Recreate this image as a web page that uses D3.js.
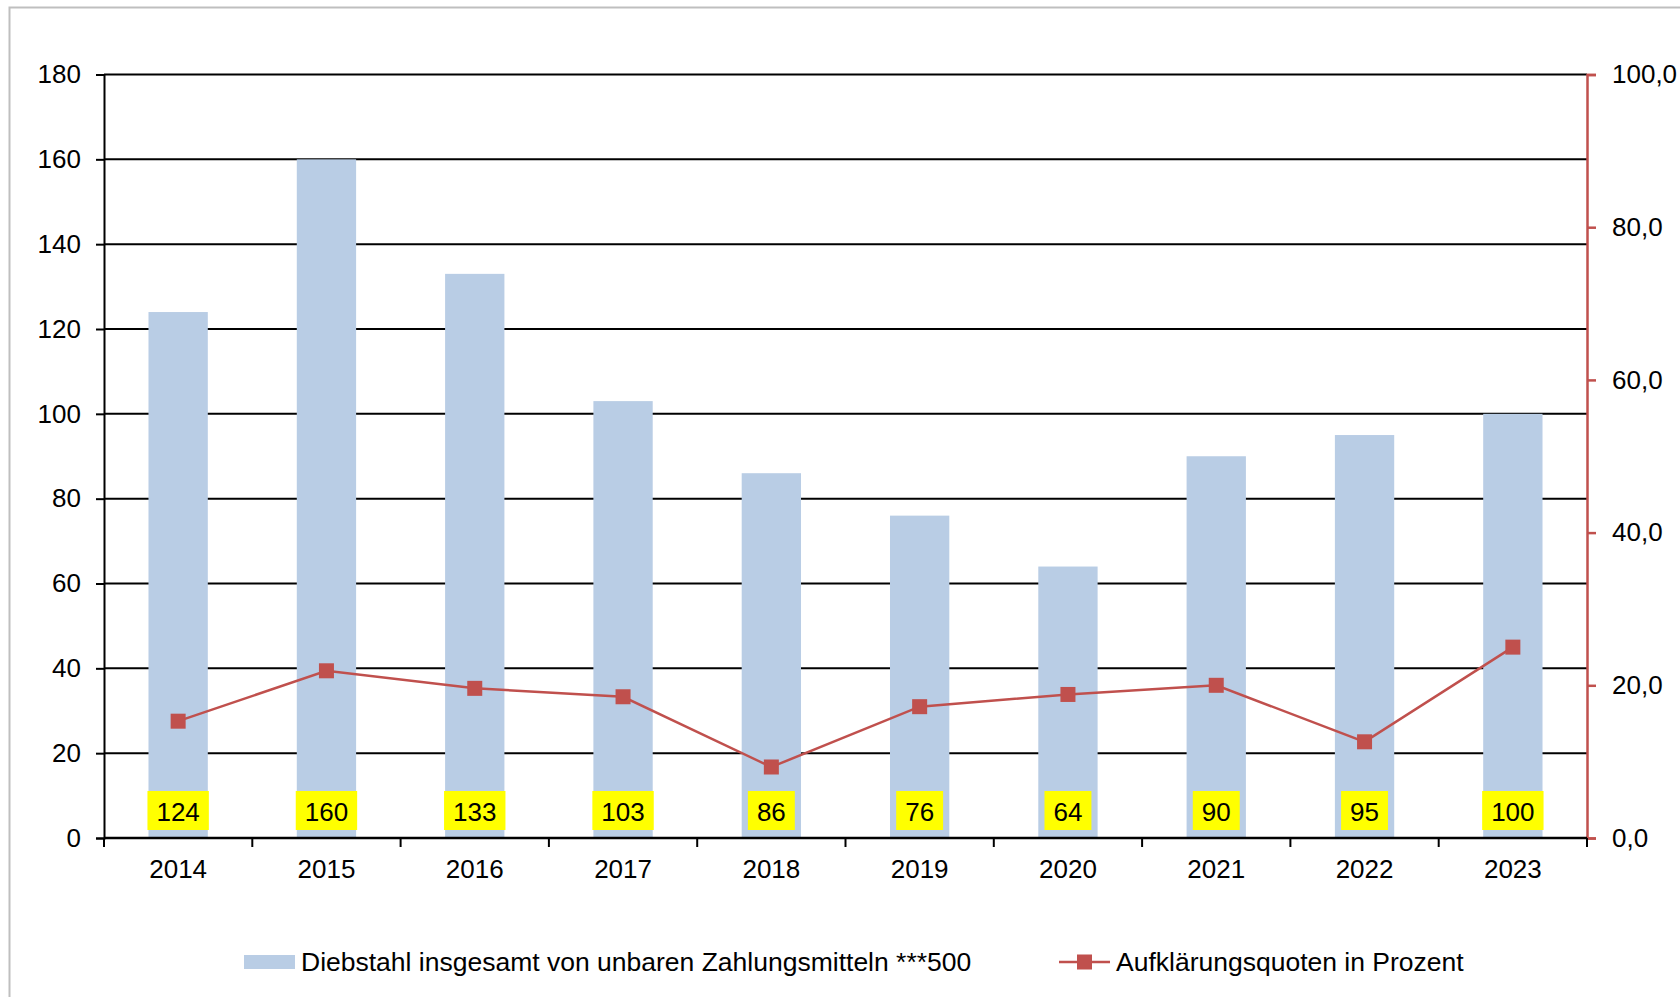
<!DOCTYPE html>
<html>
<head>
<meta charset="utf-8">
<script src="https://cdn.jsdelivr.net/npm/d3@7"></script>
<style>
  html, body { margin: 0; padding: 0; background: #ffffff; }
  svg { display: block; font-family: "Liberation Sans", Arial, sans-serif; }
</style>
</head>
<body>
<svg id="chart" width="1680" height="997"></svg>
<script>
// Jahre, Fallzahlen (Balken) und Aufklärungsquoten (Linie)
const years = ["2014", "2015", "2016", "2017", "2018", "2019", "2020", "2021", "2022", "2023"];
const cases = [124, 160, 133, 103, 86, 76, 64, 90, 95, 100];
const clearanceRates = [15.3, 21.9, 19.6, 18.5, 9.3, 17.2, 18.8, 20.0, 12.6, 25.0];
const leftTicks = [0, 20, 40, 60, 80, 100, 120, 140, 160, 180];
const rightTicks = [0, 20, 40, 60, 80, 100];
const barLegend = "Diebstahl insgesamt von unbaren Zahlungsmitteln ***500";
const lineLegend = "Aufklärungsquoten in Prozent";

const svg = d3.select("#chart");
const W = 1680, H = 997;
const plot = { left: 104, right: 1587, top: 74.5, bottom: 838 };
const barColor = "#B9CDE5";
const lineColor = "#C0504D";
const fontSize = 26;
const legendFontSize = 26.5;

// outer frame of the chart area
svg.append("rect")
  .attr("x", 9.5).attr("y", 7.5)
  .attr("width", W).attr("height", H)
  .attr("fill", "none").attr("stroke", "#BFBFBF").attr("stroke-width", 2);

// scales
const xBand = d3.scaleBand().domain(years).range([plot.left, plot.right]).padding(0);
const xBar = d3.scaleBand().domain(years).range([plot.left, plot.right])
  .paddingInner(0.6).paddingOuter(0.3);
const yLeft = d3.scaleLinear().domain([0, 180]).range([plot.bottom, plot.top]);
const yRight = d3.scaleLinear().domain([0, 100]).range([plot.bottom, plot.top]);

// horizontal gridlines
svg.append("g").selectAll("line")
  .data(leftTicks.filter(d => d > 0))
  .join("line")
  .attr("x1", plot.left).attr("x2", plot.right)
  .attr("y1", d => yLeft(d)).attr("y2", d => yLeft(d))
  .attr("stroke", "#000").attr("stroke-width", 2);

// bars
svg.append("g").selectAll("rect")
  .data(years.map((y, i) => ({ year: y, value: cases[i] })))
  .join("rect")
  .attr("x", d => xBar(d.year))
  .attr("width", xBar.bandwidth())
  .attr("y", d => yLeft(d.value))
  .attr("height", d => yLeft(0) - yLeft(d.value))
  .attr("fill", barColor);

// left axis
const gLeft = svg.append("g")
  .attr("transform", `translate(${plot.left},0)`)
  .call(d3.axisLeft(yLeft).tickValues(leftTicks).tickSize(8).tickPadding(15)
    .tickFormat(d3.format("d")));
gLeft.select(".domain").attr("stroke", "#000").attr("stroke-width", 2);
gLeft.selectAll(".tick line").attr("stroke", "#000").attr("stroke-width", 2);
gLeft.selectAll(".tick text")
  .attr("font-size", fontSize).attr("fill", "#000")
  .attr("font-family", "Liberation Sans, Arial, sans-serif");

// right axis
const fmtComma = d => d.toFixed(1).replace(".", ",");
const gRight = svg.append("g")
  .attr("transform", `translate(${plot.right},0)`)
  .call(d3.axisRight(yRight).tickValues(rightTicks).tickSize(9).tickPadding(16)
    .tickFormat(fmtComma));
gRight.select(".domain").attr("stroke", lineColor).attr("stroke-width", 2.5);
gRight.selectAll(".tick line").attr("stroke", lineColor).attr("stroke-width", 2.5);
gRight.selectAll(".tick text")
  .attr("font-size", fontSize).attr("fill", "#000")
  .attr("font-family", "Liberation Sans, Arial, sans-serif");

// bottom axis: ticks at category boundaries
const gBottom = svg.append("g")
  .attr("transform", `translate(0,${plot.bottom})`);
gBottom.append("line")
  .attr("x1", plot.left).attr("x2", plot.right)
  .attr("y1", 0).attr("y2", 0)
  .attr("stroke", "#000").attr("stroke-width", 2.5);
const boundaries = years.map(y => xBand(y)).concat([xBand(years[years.length - 1]) + xBand.bandwidth()]);
gBottom.selectAll("line.tick")
  .data(boundaries)
  .join("line")
  .attr("class", "tick")
  .attr("x1", d => d).attr("x2", d => d)
  .attr("y1", 0).attr("y2", 9)
  .attr("stroke", "#000").attr("stroke-width", 2);
gBottom.selectAll("text")
  .data(years)
  .join("text")
  .attr("x", d => xBand(d) + xBand.bandwidth() / 2)
  .attr("y", 31)
  .attr("dy", "0.35em")
  .attr("text-anchor", "middle")
  .attr("font-size", fontSize)
  .attr("fill", "#000")
  .text(d => d);

// clearance-rate line with square markers
const lineData = years.map((y, i) => ({ year: y, value: clearanceRates[i] }));
const cx = d => xBand(d.year) + xBand.bandwidth() / 2;
svg.append("path")
  .datum(lineData)
  .attr("fill", "none")
  .attr("stroke", lineColor)
  .attr("stroke-width", 2.5)
  .attr("d", d3.line().x(cx).y(d => yRight(d.value)));
const mk = 15;
svg.append("g").selectAll("rect")
  .data(lineData)
  .join("rect")
  .attr("x", d => cx(d) - mk / 2)
  .attr("y", d => yRight(d.value) - mk / 2)
  .attr("width", mk).attr("height", mk)
  .attr("fill", lineColor);

// value labels in yellow boxes near the base of each bar
const labelY = 812;
const labels = svg.append("g").selectAll("g")
  .data(years.map((y, i) => ({ year: y, value: cases[i] })))
  .join("g");
labels.append("text")
  .attr("x", d => xBand(d.year) + xBand.bandwidth() / 2)
  .attr("y", labelY)
  .attr("dy", "0.35em")
  .attr("text-anchor", "middle")
  .attr("font-size", fontSize)
  .attr("fill", "#000")
  .text(d => d.value);
labels.each(function () {
  const g = d3.select(this);
  const t = g.select("text");
  const bb = t.node().getBBox();
  g.insert("rect", "text")
    .attr("x", bb.x - 9)
    .attr("width", bb.width + 18)
    .attr("y", 791)
    .attr("height", 39)
    .attr("fill", "#FFFF00");
});

// legend
const legendY = 962;
const lg = svg.append("g");
lg.append("rect")
  .attr("x", 244).attr("y", legendY - 7)
  .attr("width", 51).attr("height", 14)
  .attr("fill", barColor);
lg.append("text")
  .attr("x", 301).attr("y", legendY).attr("dy", "0.35em")
  .attr("font-size", legendFontSize).attr("fill", "#000")
  .text(barLegend);
lg.append("line")
  .attr("x1", 1059).attr("x2", 1110)
  .attr("y1", legendY).attr("y2", legendY)
  .attr("stroke", lineColor).attr("stroke-width", 2.5);
lg.append("rect")
  .attr("x", 1084.5 - mk / 2).attr("y", legendY - mk / 2)
  .attr("width", mk).attr("height", mk)
  .attr("fill", lineColor);
lg.append("text")
  .attr("x", 1116).attr("y", legendY).attr("dy", "0.35em")
  .attr("font-size", legendFontSize).attr("fill", "#000")
  .text(lineLegend);
</script>
</body>
</html>
